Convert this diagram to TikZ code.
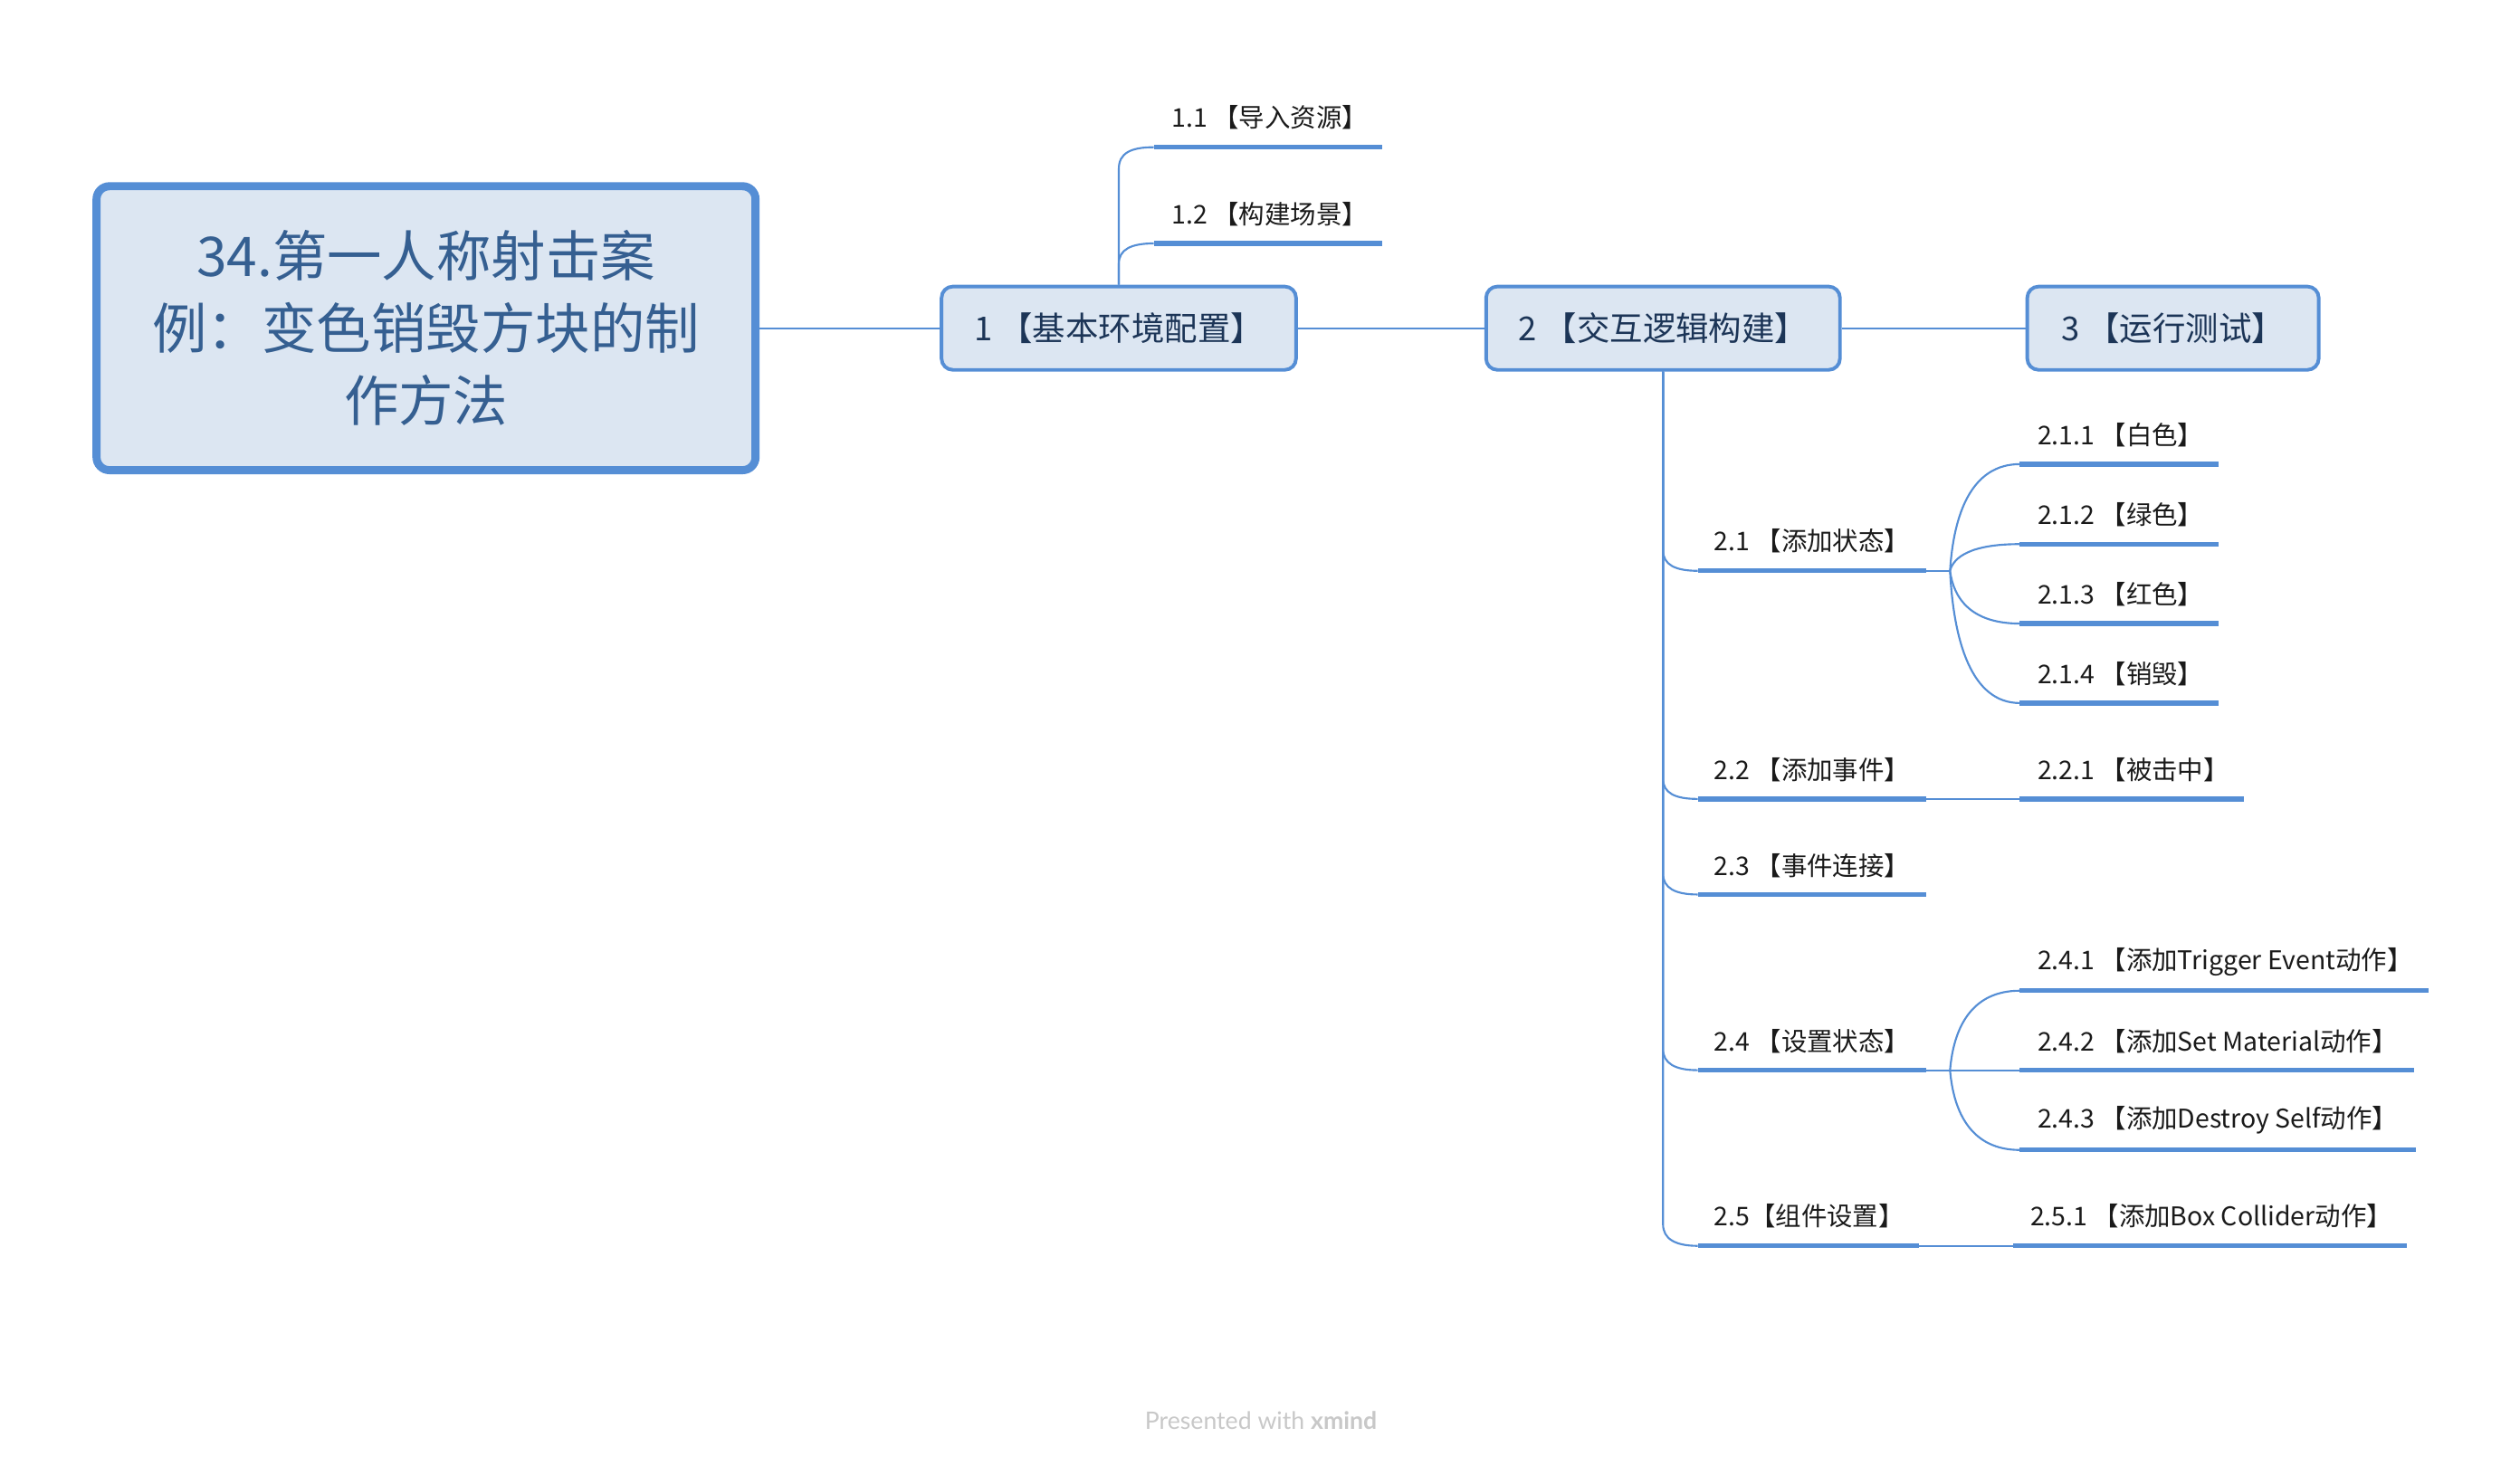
\documentclass[tikz,border=0pt]{standalone}
\usepackage{fontspec}
\setmainfont{Noto Sans CJK SC}
\newfontfamily\wmfont{Lato}
\definecolor{xblue}{HTML}{558ED5}
\definecolor{xfill}{HTML}{DCE6F2}
\definecolor{xcentral}{HTML}{355F91}
\definecolor{xnode}{HTML}{1C3557}
\definecolor{xtext}{HTML}{1A1A1A}
\definecolor{xgrey}{HTML}{C8C8C8}
\begin{document}
\begin{tikzpicture}[x=1pt,y=-1pt,
  conn/.style={draw=xblue,line width=1.2pt},
  ul/.style={draw=xblue,line width=3pt},
  lbl/.style={anchor=west,inner sep=0pt,text=xtext,font=\fontsize{16}{19}\selectfont},
  topic/.style={draw=xblue,fill=xfill,line width=2.2pt,rounded corners=7pt,text=xnode,
    inner sep=0pt,minimum height=51.8pt,font=\fontsize{20.5}{24}\selectfont},
  central/.style={draw=xblue,fill=xfill,line width=5pt,rounded corners=8pt,text=xcentral,
    inner sep=0pt,minimum width=409.5pt,minimum height=176.5pt,align=center,
    font=\fontsize{34}{45}\selectfont}]
\useasboundingbox (0,0) rectangle (1566,911);

% central topic and main topics
\node[central] (c) at (264.75,204) {34.第一人称射击案\\例：变色销毁方块的制\\作方法};
\node[topic,minimum width=220.3pt] (n1) at (695.25,204) {1 【基本环境配置】};
\node[topic,minimum width=219.9pt] (n2) at (1033.45,204) {2 【交互逻辑构建】};
\node[topic,minimum width=181.1pt] (n3) at (1350.35,204) {3 【运行测试】};
\draw[conn] (c.east) -- (n1.west);
\draw[conn] (n1.east) -- (n2.west);
\draw[conn] (n2.east) -- (n3.west);

% children of 1
\coordinate (u11s) at (717,91.5);  \coordinate (u11e) at (859,91.5);
\coordinate (u12s) at (717,151.3); \coordinate (u12e) at (859,151.3);
\draw[ul] (u11s) -- (u11e);
\draw[ul] (u12s) -- (u12e);
\node[lbl] (t11) at (728,73) {1.1 【导入资源】};
\node[lbl] (t12) at (728,133) {1.2 【构建场景】};
\draw[conn] (n1.north) -- (695.25,105) .. controls (695.25,95) and (703,91.5) .. (u11s);
\draw[conn] (n1.north) -- (695.25,164) .. controls (695.25,155) and (703,151.3) .. (u12s);

% children of 2 : level 2
\coordinate (u21s) at (1055,354.8); \coordinate (u21e) at (1197,354.8);
\coordinate (u22s) at (1055,496.6); \coordinate (u22e) at (1197,496.6);
\coordinate (u23s) at (1055,556);   \coordinate (u23e) at (1197,556);
\coordinate (u24s) at (1055,665.2); \coordinate (u24e) at (1197,665.2);
\coordinate (u25s) at (1055,774.4); \coordinate (u25e) at (1192.4,774.4);
\foreach \u in {21,22,23,24,25} {\draw[ul] (u\u s) -- (u\u e);}
\node[lbl] (t21) at (1065,336.3) {2.1 【添加状态】};
\node[lbl] (t22) at (1065,478.6) {2.2 【添加事件】};
\node[lbl] (t23) at (1065,538.1) {2.3 【事件连接】};
\node[lbl] (t24) at (1065,647)   {2.4 【设置状态】};
\node[lbl] (t25) at (1065,756)   {2.5【组件设置】};
\draw[conn] (n2.south) -- (1033.45,342) .. controls (1033.45,351) and (1041,354.8) .. (u21s);
\draw[conn] (n2.south) -- (1033.45,484) .. controls (1033.45,493) and (1041,496.6) .. (u22s);
\draw[conn] (n2.south) -- (1033.45,543) .. controls (1033.45,552) and (1041,556) .. (u23s);
\draw[conn] (n2.south) -- (1033.45,652) .. controls (1033.45,661) and (1041,665.2) .. (u24s);
\draw[conn] (n2.south) -- (1033.45,761) .. controls (1033.45,770) and (1041,774.4) .. (u25s);

% children of 2.1
\coordinate (j21) at (1211.8,354.8);
\coordinate (u211s) at (1255.2,288.5); \coordinate (u211e) at (1378.7,288.5);
\coordinate (u212s) at (1255.2,338.2); \coordinate (u212e) at (1378.7,338.2);
\coordinate (u213s) at (1255.2,387.6); \coordinate (u213e) at (1378.7,387.6);
\coordinate (u214s) at (1255.2,437);   \coordinate (u214e) at (1378.7,437);
\foreach \u in {211,212,213,214} {\draw[ul] (u\u s) -- (u\u e);}
\node[lbl] (t211) at (1266,270.2) {2.1.1 【白色】};
\node[lbl] (t212) at (1266,319.7) {2.1.2 【绿色】};
\node[lbl] (t213) at (1266,369.2) {2.1.3 【红色】};
\node[lbl] (t214) at (1266,418.7) {2.1.4 【销毁】};
\draw[conn] (u21e) -- (j21);
\draw[conn] (j21) .. controls (1214,319.7) and (1225,288.5) .. (u211s);
\draw[conn] (j21) .. controls (1214,346.1) and (1225,338.2) .. (u212s);
\draw[conn] (j21) .. controls (1214,372.1) and (1225,387.6) .. (u213s);
\draw[conn] (j21) .. controls (1214,398.4) and (1225,437) .. (u214s);

% child of 2.2
\coordinate (u221s) at (1255.2,496.6); \coordinate (u221e) at (1394.6,496.6);
\draw[ul] (u221s) -- (u221e);
\node[lbl] (t221) at (1266,478.6) {2.2.1 【被击中】};
\draw[conn] (u22e) -- (u221s);

% children of 2.4
\coordinate (j24) at (1211.8,665.2);
\coordinate (u241s) at (1255.2,615.8); \coordinate (u241e) at (1509.3,615.8);
\coordinate (u242s) at (1255.2,665.2); \coordinate (u242e) at (1500.2,665.2);
\coordinate (u243s) at (1255.2,714.8); \coordinate (u243e) at (1501.2,714.8);
\foreach \u in {241,242,243} {\draw[ul] (u\u s) -- (u\u e);}
\node[lbl] (t241) at (1266,598)   {2.4.1 【添加Trigger Event动作】};
\node[lbl] (t242) at (1266,647)   {2.4.2 【添加Set Material动作】};
\node[lbl] (t243) at (1266,696.4) {2.4.3 【添加Destroy Self动作】};
\draw[conn] (u24e) -- (j24);
\draw[conn] (j24) .. controls (1214,639) and (1225,615.8) .. (u241s);
\draw[conn] (j24) -- (u242s);
\draw[conn] (j24) .. controls (1214,691.5) and (1225,714.8) .. (u243s);

% child of 2.5
\coordinate (u251s) at (1251,774.4); \coordinate (u251e) at (1495.9,774.4);
\draw[ul] (u251s) -- (u251e);
\node[lbl] (t251) at (1261.5,756) {2.5.1 【添加Box Collider动作】};
\draw[conn] (u25e) -- (u251s);

% watermark
\node[inner sep=0pt,text=xgrey,font=\wmfont\fontsize{15}{18}\selectfont] (wm) at (783.6,883)
  {Presented with \textbf{xmind}};
\end{tikzpicture}
\end{document}
